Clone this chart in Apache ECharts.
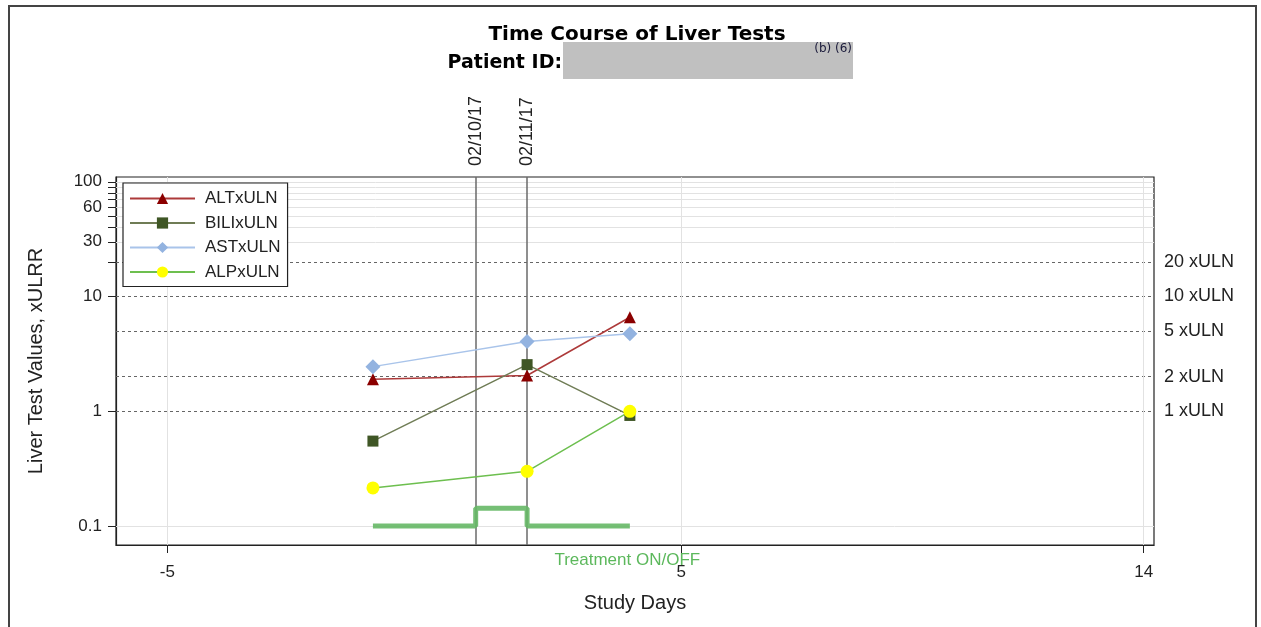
<!DOCTYPE html>
<html>
<head>
<meta charset="utf-8">
<script src="https://cdn.jsdelivr.net/npm/echarts@6/dist/echarts.min.js"></script>
<style>
html,body{margin:0;padding:0;background:#fff;}
#chart{width:1261px;height:627px;}
</style>
</head>
<body>
<div id="chart"></div>
<script>
// ---- data ----
const studyDays = [-1, 2, 4];
const altValues = [1.9, 2.05, 6.6];
const biliValues = [0.55, 2.55, 0.92];
const astValues = [2.45, 4.05, 4.75];
const alpValues = [0.215, 0.30, 1.0];
const treatmentDays = [-1, 1, 1, 2, 2, 4];
const treatmentLevels = [0.1, 0.1, 0.143, 0.143, 0.1, 0.1];
const visitDays = [1, 2];
const visitLabels = ['02/10/17', '02/11/17'];
const xTicks = [-5, 5, 14];
const yLabelTicks = [0.1, 1, 10, 30, 60, 100];
const yMinorTicks = [0.1, 1, 10, 20, 30, 40, 50, 60, 70, 80, 90, 100];
const ulnLevels = [20, 10, 5, 2, 1];
const ulnLabels = ['20 xULN', '10 xULN', '5 xULN', '2 xULN', '1 xULN'];
const lightGridY = [0.1, 30, 40, 50, 60, 70, 80, 90, 100];
const xRange = [-6, 14.2];
const yRange = [0.0684, 110];

const FONT = "'Liberation Sans', Arial, sans-serif";
const chart = echarts.init(document.getElementById('chart'), null, {renderer: 'canvas'});

function pairs(xs, ys) { return xs.map((x, i) => [x, ys[i]]); }

const guideLines = [];
ulnLevels.forEach((v, i) => guideLines.push({
  yAxis: v,
  lineStyle: {color: '#666', type: [3, 3], width: 1},
  label: {show: true, position: 'end', formatter: ulnLabels[i], color: '#222', fontSize: 18, fontFamily: FONT, distance: 10}
}));
lightGridY.forEach(v => guideLines.push({
  yAxis: v, lineStyle: {color: '#e2e2e2', type: 'solid', width: 1}, label: {show: false}
}));
xTicks.forEach(v => guideLines.push({
  xAxis: v, lineStyle: {color: '#e2e2e2', type: 'solid', width: 1}, label: {show: false}
}));
visitDays.forEach(v => guideLines.push({
  xAxis: v, lineStyle: {color: '#6a6a6a', type: 'solid', width: 1.5}, label: {show: false}
}));

const option = {
  animation: false,
  backgroundColor: '#fff',
  textStyle: {fontFamily: FONT},
  graphic: [
    {type: 'rect', shape: {x: 9, y: 6, width: 1247, height: 640}, style: {fill: 'none', stroke: '#444', lineWidth: 2}, silent: true},
    {type: 'text', x: 637, y: 35, style: {text: 'Time Course of Liver Tests', font: "bold 20px 'DejaVu Sans'", fill: '#000', textAlign: 'center', textVerticalAlign: 'middle'}},
    {type: 'rect', shape: {x: 563, y: 42, width: 290, height: 37}, style: {fill: '#c0c0c0'}},
    {type: 'text', x: 562, y: 63, style: {text: 'Patient ID:', font: "bold 19px 'DejaVu Sans'", fill: '#000', textAlign: 'right', textVerticalAlign: 'middle'}},
    {type: 'text', x: 852, y: 49, style: {text: '(b) (6)', font: "12px 'DejaVu Sans'", fill: '#1a1a3a', textAlign: 'right', textVerticalAlign: 'middle'}}
  ],
  legend: {
    orient: 'vertical', left: 123, top: 183, z: 20,
    data: ['ALTxULN', 'BILIxULN', 'ASTxULN', 'ALPxULN'],
    backgroundColor: '#fff', borderColor: '#222', borderWidth: 1.2,
    padding: [7, 7, 6, 6], itemWidth: 65, itemHeight: 14, itemGap: 7.5,
    textStyle: {fontSize: 17, color: '#222', fontFamily: FONT, padding: [0, 0, 0, 5]}
  },
  grid: {left: 116, right: 107, top: 177, bottom: 82, show: true, borderColor: '#222', borderWidth: 1.2, backgroundColor: 'transparent'},
  xAxis: [{
    type: 'value', min: xRange[0], max: xRange[1], position: 'bottom',
    name: 'Study Days', nameLocation: 'middle', nameGap: 48,
    nameTextStyle: {fontSize: 20, color: '#222', fontFamily: FONT},
    axisLine: {show: true, onZero: false, lineStyle: {color: '#222', width: 1.2}},
    axisTick: {show: true, length: 8, inside: false, customValues: xTicks, lineStyle: {color: '#222'}},
    axisLabel: {show: true, customValues: xTicks, fontSize: 17, color: '#222', margin: 19},
    splitLine: {show: false}
  }, {
    type: 'value', min: xRange[0], max: xRange[1], position: 'top',
    axisLine: {show: false}, axisTick: {show: false},
    axisLabel: {show: true, customValues: visitDays, rotate: -90, margin: 11, fontSize: 18, color: '#222',
      formatter: v => visitLabels[visitDays.indexOf(v)] || ''},
    splitLine: {show: false}
  }],
  yAxis: {
    type: 'log', logBase: 10, min: yRange[0], max: yRange[1],
    name: 'Liver Test Values, xULRR', nameLocation: 'middle', nameGap: 70,
    nameTextStyle: {fontSize: 20, color: '#222', fontFamily: FONT},
    axisLine: {show: true, onZero: false, lineStyle: {color: '#222', width: 1.2}},
    axisTick: {show: true, length: 8, customValues: yMinorTicks, lineStyle: {color: '#222'}},
    axisLabel: {show: true, customValues: yLabelTicks, fontSize: 17, color: '#222', margin: 14,
      formatter: v => String(+v.toPrecision(3))},
    splitLine: {show: false}, minorTick: {show: false}
  },
  series: [
    {
      name: 'guides', type: 'line', data: [], z: 1, silent: true,
      markLine: {silent: true, symbol: 'none', animation: false, z: 1, data: guideLines}
    },
    {
      name: 'Treatment', type: 'line', data: pairs(treatmentDays, treatmentLevels), z: 2,
      showSymbol: false, symbol: 'none',
      lineStyle: {color: '#66b866', width: 5, opacity: 0.9},
      markPoint: {
        symbol: 'circle', symbolSize: 1, itemStyle: {color: 'rgba(0,0,0,0)'},
        data: [{coord: [3.95, yRange[0]], label: {show: true, formatter: 'Treatment ON/OFF', color: '#5cb85c', fontSize: 17, position: 'inside', offset: [0, 15], fontFamily: FONT}}]
      }
    },
    {
      name: 'ALTxULN', type: 'line', data: pairs(studyDays, altValues), z: 5,
      symbol: 'triangle', symbolSize: 12,
      lineStyle: {color: '#ad3a3a', width: 1.5}, itemStyle: {color: '#8b0000'}
    },
    {
      name: 'BILIxULN', type: 'line', data: pairs(studyDays, biliValues), z: 5,
      symbol: 'rect', symbolSize: 11,
      lineStyle: {color: '#6f7c55', width: 1.5}, itemStyle: {color: '#3f5625'}
    },
    {
      name: 'ASTxULN', type: 'line', data: pairs(studyDays, astValues), z: 5,
      symbol: 'diamond', symbolSize: 15,
      lineStyle: {color: '#a9c4ea', width: 1.5}, itemStyle: {color: '#93b3e0'}
    },
    {
      name: 'ALPxULN', type: 'line', data: pairs(studyDays, alpValues), z: 5,
      symbol: 'circle', symbolSize: 13,
      lineStyle: {color: '#6dbf4f', width: 1.5}, itemStyle: {color: '#ffff00'}
    }
  ]
};
chart.setOption(option);
</script>
</body>
</html>
